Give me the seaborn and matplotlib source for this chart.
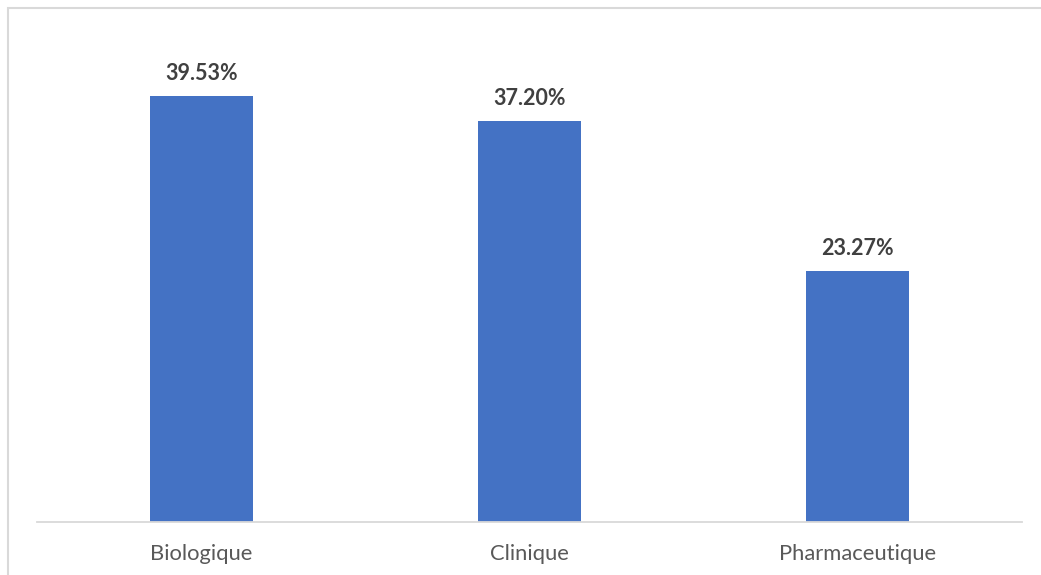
import matplotlib
matplotlib.use("Agg")
import matplotlib.pyplot as plt
from matplotlib.patches import Rectangle
import seaborn as sns
import pandas as pd

categories = ["Biologique", "Clinique", "Pharmaceutique"]
values = [39.53, 37.20, 23.27]

sns.set_theme(style="white")
plt.rcParams["font.family"] = ["Lato", "DejaVu Sans"]

W, H = 1041, 575
fig = plt.figure(figsize=(W / 100, H / 100), dpi=100)

# outer chart-area frame
fig.patches.append(Rectangle((8 / W, -0.1), 1.2, (H - 8) / H + 0.1,
                             transform=fig.transFigure, fill=False,
                             edgecolor="#d9d9d9", linewidth=1.5))

x0, x1 = 37, 1022
base, ymax = 522, 45
px_per = 10.77
top = base - ymax * px_per
ax = fig.add_axes([x0 / W, (H - base) / H, (x1 - x0) / W, (base - top) / H])

df = pd.DataFrame({"cat": categories, "val": values})
sns.barplot(data=df, x="cat", y="val", color="#4472C4", width=0.314,
            saturation=1, linewidth=0, ax=ax)

ax.set_ylim(0, ymax)
ax.set_xlim(-0.5, 2.5)
ax.set_xlabel("")
ax.set_ylabel("")
ax.set_yticks([])
for s in ["top", "right", "left"]:
    ax.spines[s].set_visible(False)
ax.spines["bottom"].set_color("#d9d9d9")
ax.spines["bottom"].set_linewidth(1.3)
ax.tick_params(axis="x", length=0, pad=16, labelsize=15.8, colors="#595959")

for i, v in enumerate(values):
    ax.annotate(f"{v:.2f}%", (i, v), xytext=(0, 9), textcoords="offset points",
                ha="center", va="bottom", fontsize=15.5, fontweight="bold",
                color="#404040")

fig.savefig("out.png", dpi=100)
